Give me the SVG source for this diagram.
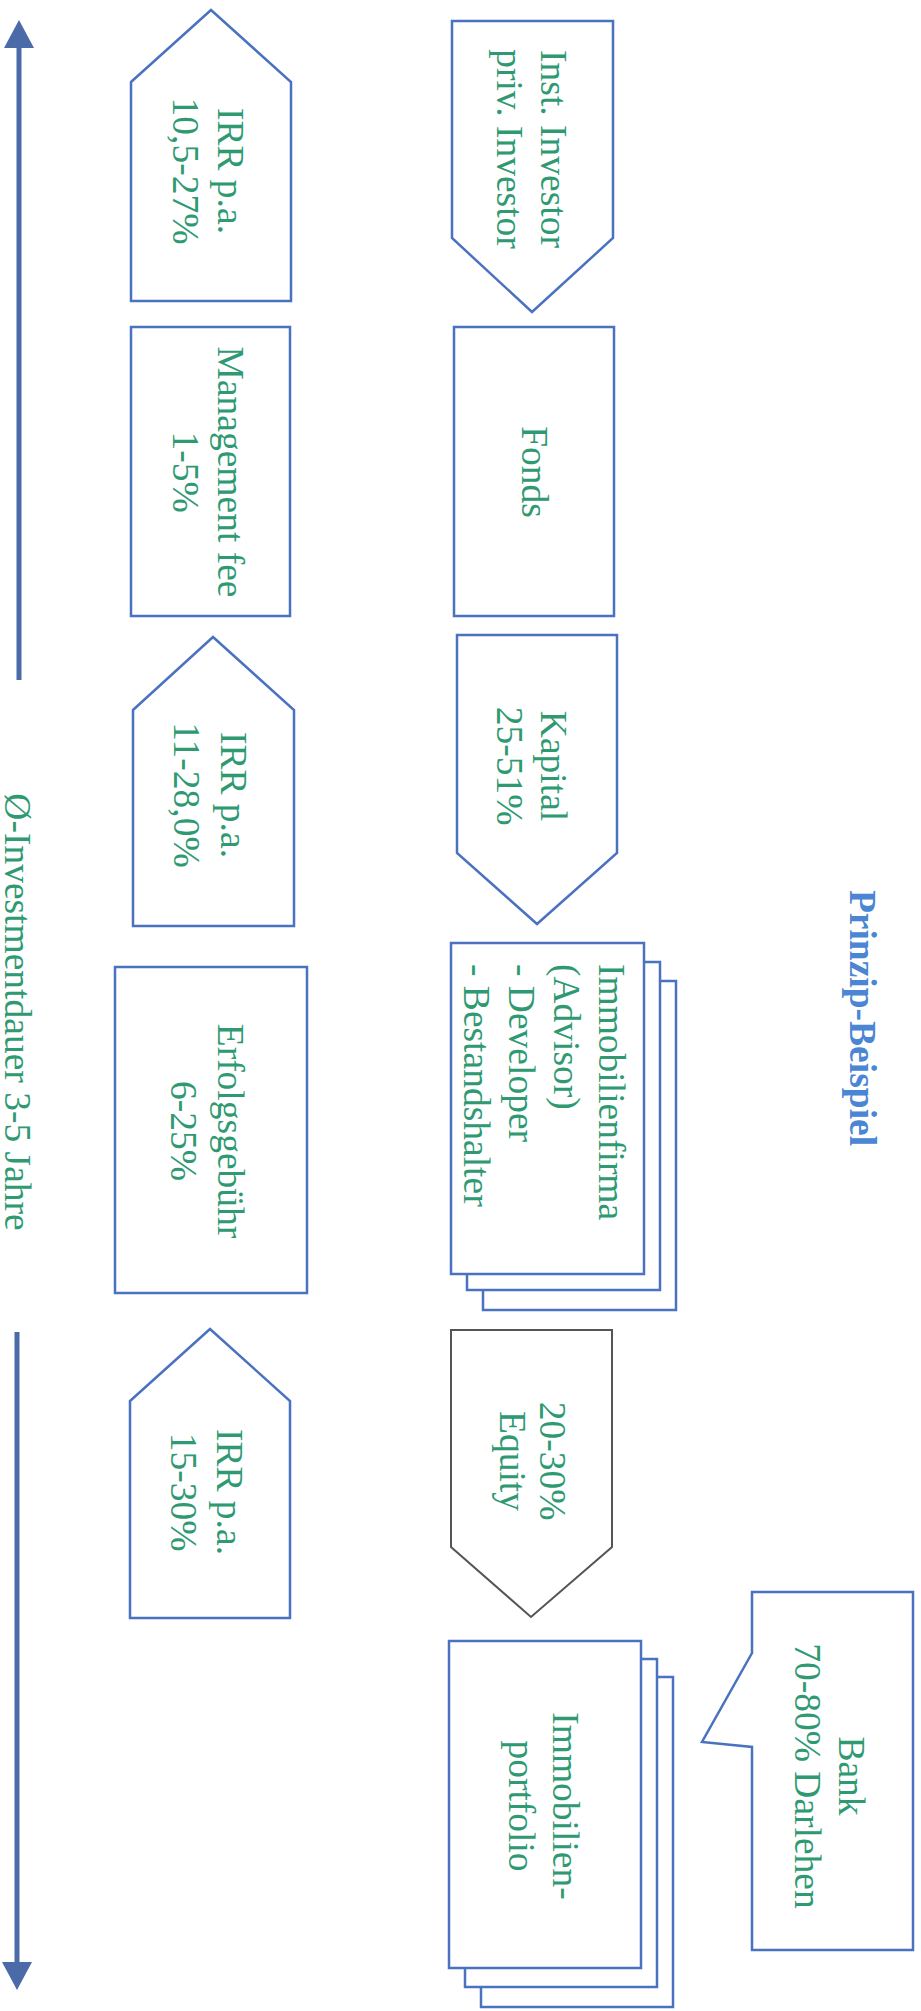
<svg xmlns="http://www.w3.org/2000/svg" width="921" height="2011" viewBox="0 0 921 2011">
<style>
  .box{fill:#fff;stroke:#4a72c0;stroke-width:2.5;stroke-linejoin:miter}
  .gray{fill:#fff;stroke:#555;stroke-width:2}
  .t{font-family:"Liberation Serif","Times New Roman",serif;font-size:37.5px;fill:#2f9a72;text-anchor:middle}
  .s{text-anchor:start}
  .title{font-family:"Liberation Serif","Times New Roman",serif;font-size:37.5px;font-weight:bold;fill:#4a86d4;text-anchor:middle}
  .axis{stroke:#4a6aa8;stroke-width:5;fill:none}
</style>
<defs>
  <marker id="ah" markerUnits="userSpaceOnUse" viewBox="0 0 28 30" markerWidth="28" markerHeight="30" refX="0" refY="15" orient="auto">
    <path d="M0,0 L28,15 L0,30 Z" fill="#4a6aa8"/>
  </marker>
</defs>
<rect width="921" height="2011" fill="#fff"/>

<g id="connectors">
  <line class="axis" x1="19" y1="680" x2="19" y2="48" marker-end="url(#ah)"/>
  <line class="axis" x1="17" y1="1332" x2="17" y2="1962" marker-end="url(#ah)"/>
</g>

<g id="axis-label">
  <text class="t" transform="translate(5,1012) rotate(90)">Ø-Investmentdauer 3-5 Jahre</text>
</g>

<g id="title">
  <text class="title" transform="translate(850,1018) rotate(90)">Prinzip-Beispiel</text>
</g>

<g id="irr1">
  <path class="box" d="M131,82 L211,10 L291,82 L291,301 L131,301 Z"/>
  <text class="t" transform="translate(218,171) rotate(90)">IRR p.a.</text>
  <text class="t" transform="translate(173,171) rotate(90)">10,5-27%</text>
</g>

<g id="mgmt">
  <rect class="box" x="131" y="327" width="159" height="289"/>
  <text class="t" transform="translate(218,472) rotate(90)">Management fee</text>
  <text class="t" transform="translate(173,472) rotate(90)">1-5%</text>
</g>

<g id="irr2">
  <path class="box" d="M133,710 L213,637 L294,710 L294,926 L133,926 Z"/>
  <text class="t" transform="translate(221,795) rotate(90)">IRR p.a.</text>
  <text class="t" transform="translate(174,795) rotate(90)">11-28,0%</text>
</g>

<g id="erfolg">
  <rect class="box" x="115" y="967" width="192" height="326"/>
  <text class="t" transform="translate(218,1131) rotate(90)">Erfolgsgebühr</text>
  <text class="t" transform="translate(171,1131) rotate(90)">6-25%</text>
</g>

<g id="irr3">
  <path class="box" d="M130,1401 L210,1329 L290,1401 L290,1618 L130,1618 Z"/>
  <text class="t" transform="translate(217,1492) rotate(90)">IRR p.a.</text>
  <text class="t" transform="translate(171,1492) rotate(90)">15-30%</text>
</g>

<g id="investor">
  <path class="box" d="M452,21 L613,21 L613,238 L532,312 L452,238 Z"/>
  <text class="t" transform="translate(541,149) rotate(90)">Inst. Investor</text>
  <text class="t" transform="translate(497,149) rotate(90)">priv. Investor</text>
</g>

<g id="fonds">
  <rect class="box" x="454" y="327" width="160" height="289"/>
  <text class="t" transform="translate(522,472) rotate(90)">Fonds</text>
</g>

<g id="kapital">
  <path class="box" d="M457,635 L617,635 L617,853 L537,924 L457,853 Z"/>
  <text class="t" transform="translate(541,766) rotate(90)">Kapital</text>
  <text class="t" transform="translate(497,766) rotate(90)">25-51%</text>
</g>

<g id="immofirma">
  <rect class="box" x="483" y="981" width="193" height="329"/>
  <rect class="box" x="467" y="962" width="193" height="328"/>
  <rect class="box" x="451" y="943" width="193" height="331"/>
  <text class="t s" transform="translate(599,964) rotate(90)">Immobilienfirma</text>
  <text class="t s" transform="translate(554,964) rotate(90)">(Advisor)</text>
  <text class="t s" transform="translate(509,964) rotate(90)">- Developer</text>
  <text class="t s" transform="translate(464,964) rotate(90)">- Bestandshalter</text>
</g>

<g id="equity">
  <path class="gray" d="M451,1330 L612,1330 L612,1547 L531,1617 L451,1547 Z"/>
  <text class="t" transform="translate(540,1461) rotate(90)">20-30%</text>
  <text class="t" transform="translate(500,1461) rotate(90)">Equity</text>
</g>

<g id="portfolio">
  <rect class="box" x="481" y="1677" width="192" height="330"/>
  <rect class="box" x="465" y="1659" width="192" height="328"/>
  <rect class="box" x="449" y="1641" width="192" height="327"/>
  <text class="t" transform="translate(553,1806) rotate(90)">Immobilien-</text>
  <text class="t" transform="translate(509,1806) rotate(90)">portfolio</text>
</g>

<g id="bank">
  <path class="box" d="M752,1592 L913,1592 L913,1950 L752,1950 L752,1747 L702,1742 L752,1653 Z"/>
  <text class="t" transform="translate(839,1776) rotate(90)">Bank</text>
  <text class="t" transform="translate(795,1776) rotate(90)">70-80% Darlehen</text>
</g>
</svg>
